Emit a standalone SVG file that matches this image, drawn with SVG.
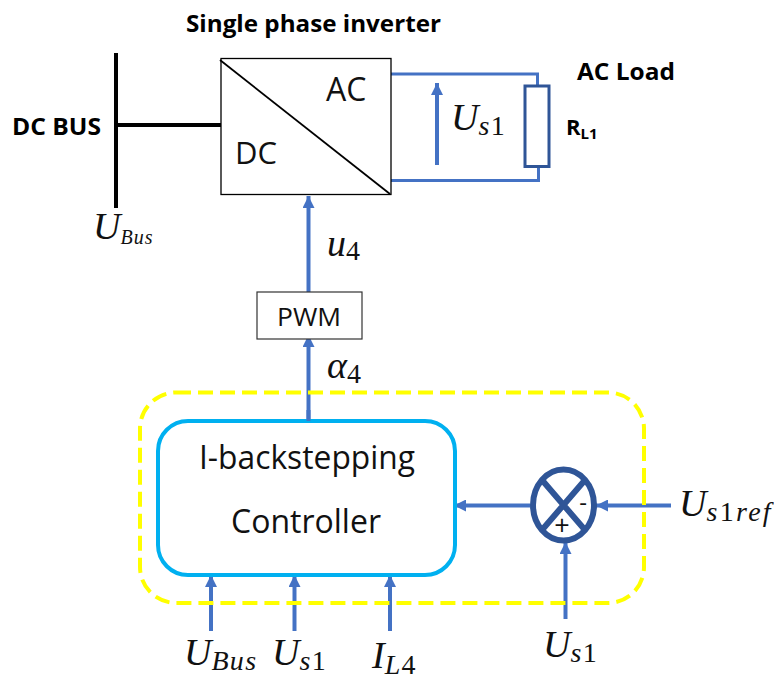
<svg xmlns="http://www.w3.org/2000/svg" width="774" height="675" viewBox="0 0 774 675">
<style>
.b{font-family:"Open Sans","Noto Sans",sans-serif;font-weight:700;fill:#000}
.r{font-family:"Open Sans","Noto Sans",sans-serif;fill:#111}
.m{font-family:"Liberation Serif",serif;font-style:italic;fill:#111;font-size:38px}
.n{font-style:normal}
.s{font-size:28px;letter-spacing:1.300px}
.w{fill:none;stroke:#4472C4;stroke-width:3}
.a{fill:none;stroke:#4472C4;stroke-width:4;marker-end:url(#ah)}
.k{fill:none;stroke:#000;stroke-width:4}
</style>
<defs>
<marker id="ah" markerUnits="userSpaceOnUse" markerWidth="13" markerHeight="12" refX="12" refY="6" orient="auto"><path d="M0 0L12 6L0 12Z" fill="#4472C4"/></marker>
</defs>
<rect width="774" height="675" fill="#fff"/>
<g id="connectors">
<path class="k" d="M116 53V208M116 125H221"/>
<path class="w" d="M391 74H537.500V86M391 180.500H538.500V167"/>
<path class="a" d="M437 165V83"/>
<path class="a" d="M308.500 293V196"/>
<path class="a" d="M308.500 421V335"/>
<path class="a" d="M530 505.500H454"/>
<path class="a" d="M671 505.500H596"/>
<path class="a" d="M565.500 619V542"/>
<path class="a" d="M211 631V575"/>
<path class="a" d="M294.500 631V575"/>
<path class="a" d="M390 631V575"/>
</g>
<g id="controller-boundary"><rect x="140" y="392.500" width="504" height="210.500" rx="36" fill="none" stroke="#FFFF00" stroke-width="4" stroke-dasharray="15 7"/></g>
<g id="inverter">
<rect x="221" y="58.500" width="170" height="136" fill="none" stroke="#000" stroke-width="1.300"/>
<path d="M220 60L390 194" stroke="#000" stroke-width="1.800"/>
<text class="r" x="326" y="101" font-size="32">AC</text>
<text class="r" x="235" y="164" font-size="31">DC</text>
</g>
<g id="title"><text class="b" x="186" y="32" font-size="24" textLength="255" lengthAdjust="spacingAndGlyphs">Single phase inverter</text></g>
<g id="dc-bus"><text class="b" x="12" y="135" font-size="24" textLength="89" lengthAdjust="spacingAndGlyphs">DC BUS</text>
<text class="m" x="93" y="239" font-size="28">U<tspan font-size="20" letter-spacing="1" dy="5">Bus</tspan></text></g>
<g id="load">
<rect x="525" y="86" width="24" height="80.500" fill="#fff" stroke="#2F5597" stroke-width="3"/>
<text class="b" x="577" y="80" font-size="24" textLength="98" lengthAdjust="spacingAndGlyphs">AC Load</text>
<text class="b" x="566" y="135" font-size="22">R<tspan font-size="15" dy="4">L1</tspan></text>
<text class="m" x="451" y="130">U<tspan class="s" dy="5">s</tspan><tspan class="s n">1</tspan></text>
</g>
<g id="u4-label"><text class="m" x="327" y="256">u<tspan class="s n" dy="4">4</tspan></text></g>
<g id="pwm">
<rect x="257" y="292" width="105" height="47" fill="#fff" stroke="#333" stroke-width="1.200"/>
<text class="r" x="277" y="326" font-size="25" textLength="64" lengthAdjust="spacingAndGlyphs">PWM</text>
</g>
<g id="a4-label"><text class="m" x="327" y="378">α<tspan class="s n" dy="5">4</tspan></text></g>
<g id="backstepping">
<rect x="158" y="421" width="297" height="154" rx="30" fill="#fff" stroke="#00B0F0" stroke-width="4"/>
<path class="a" d="M308.500 421V410" style="marker-end:none"/>
<text class="r" x="199" y="469" font-size="32" textLength="216" lengthAdjust="spacingAndGlyphs">I-backstepping</text>
<text class="r" x="231" y="533" font-size="32" textLength="150" lengthAdjust="spacingAndGlyphs">Controller</text>
</g>
<g id="sum">
<ellipse cx="563.500" cy="505" rx="30.500" ry="35.500" fill="#fff" stroke="#2F5597" stroke-width="6"/>
<path d="M542 480L585 530M585 480L542 530" stroke="#2F5597" stroke-width="6" fill="none"/>
<text class="r" x="562" y="535" font-size="27" text-anchor="middle">+</text>
<text class="r" x="583" y="511" font-size="24" text-anchor="middle">-</text>
</g>
<g id="labels-inputs">
<text class="m" x="184" y="665">U<tspan class="s" dy="5">Bus</tspan></text>
<text class="m" x="272" y="665">U<tspan class="s" dy="5">s</tspan><tspan class="s n">1</tspan></text>
<text class="m" x="372" y="668">I<tspan class="s" dy="6">L</tspan><tspan class="s n">4</tspan></text>
<text class="m" x="679" y="516">U<tspan class="s" dy="5" style="letter-spacing:2.300px">s</tspan><tspan class="s n" style="letter-spacing:2.300px">1</tspan><tspan class="s" style="letter-spacing:2.300px">ref</tspan></text>
<text class="m" x="543" y="657">U<tspan class="s" dy="5">s</tspan><tspan class="s n">1</tspan></text>
</g>
</svg>
